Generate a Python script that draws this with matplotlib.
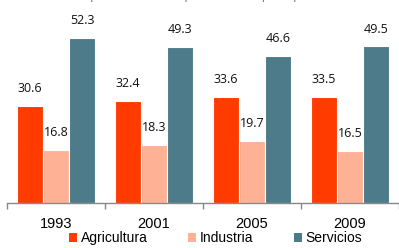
import matplotlib
matplotlib.use("Agg")
import matplotlib.pyplot as plt
import numpy as np
from matplotlib.patches import Patch

years = ["1993", "2001", "2005", "2009"]
series = ["Agricultura", "Industria", "Servicios"]
agricultura = [30.6, 32.4, 33.6, 33.5]
industria = [16.8, 18.3, 19.7, 16.5]
servicios = [52.3, 49.3, 46.6, 49.5]
values = [agricultura, industria, servicios]
colors = ["#FF3B00", "#FFB196", "#4D7B89"]
title = "Distribución porcentual de la población ocupada por sector"

fig = plt.figure(figsize=(3.99, 2.48), dpi=100)
ax = fig.add_axes([7/399, 45/248, 392/399, 203/248])

x = np.arange(len(years))
w = 0.268
for i, (vals, c) in enumerate(zip(values, colors)):
    xs = x + (i - 1) * w
    ax.bar(xs, vals, width=w, color=c, edgecolor="white", linewidth=0.8)
    for xi, v in zip(xs, vals):
        ax.annotate(f"{v:.1f}", (xi, v), xytext=(0, 12.5), textcoords="offset points",
                    ha="center", va="center", fontsize=9, family=["Open Sans", "DejaVu Sans"],
                    color="#111111")

ax.set_xlim(-0.5, len(years) - 0.5)
ax.set_ylim(0, 64.2)
for s in ["top", "right", "left"]:
    ax.spines[s].set_visible(False)
ax.spines["bottom"].set_color("#888888")
ax.spines["bottom"].set_linewidth(1.0)
ax.set_yticks([])
ax.set_xticks(np.arange(len(years) + 1) - 0.5)
ax.set_xticklabels([])
ax.tick_params(axis="x", which="major", length=4, color="#888888", width=1.0)
ax.set_xticks(x, minor=True)
ax.set_xticklabels(years, minor=True, fontsize=10.5, family=["Liberation Sans", "DejaVu Sans"])
ax.tick_params(axis="x", which="minor", length=0, pad=10)

handles = [Patch(facecolor=c, edgecolor="none") for c in colors]
fig.legend(handles, series, loc="center", bbox_to_anchor=(215.5/399, 1 - 238/248), ncol=3,
           frameon=False, handlelength=0.6, handleheight=0.6, handletextpad=0.25,
           columnspacing=2.9, prop={"family": ["Liberation Sans", "DejaVu Sans"], "size": 10},
           borderpad=0, borderaxespad=0)

fig.text(20/399, 1 + 3/248, title, ha="left", va="center", fontsize=8, color="#777777")

fig.savefig("out.png", dpi=100)
